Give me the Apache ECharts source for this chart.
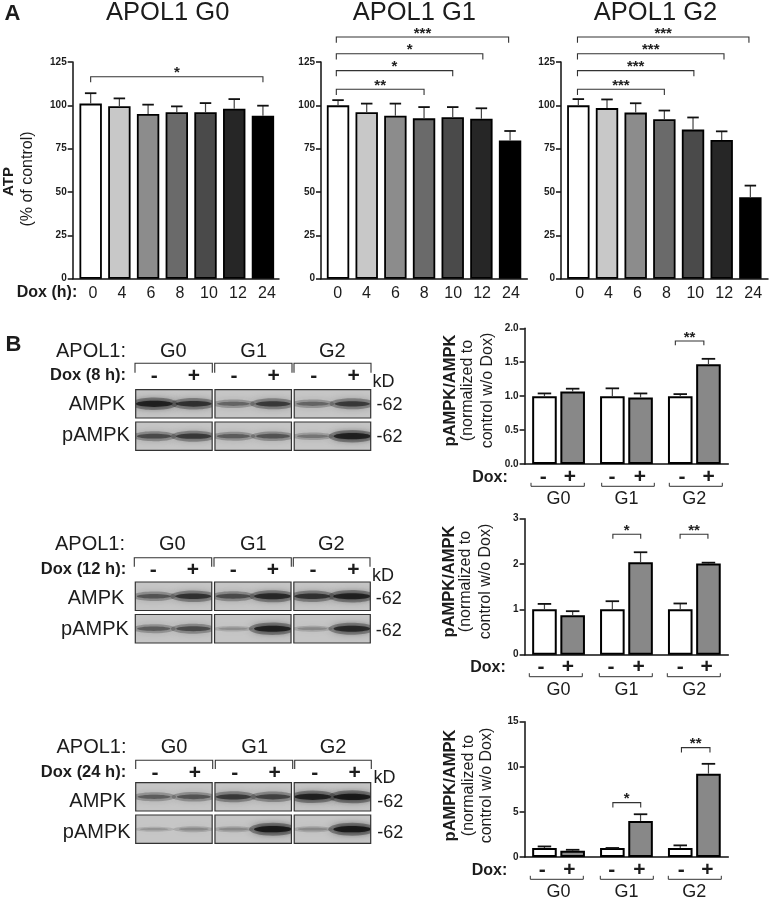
<!DOCTYPE html>
<html>
<head>
<meta charset="utf-8">
<style>html,body{margin:0;padding:0;background:#fff}#c{width:770px;height:901px}</style>
<script src="https://cdn.jsdelivr.net/npm/echarts@6/dist/echarts.min.js"></script>
</head>
<body>
<div id="c"></div>
<script>
// ---------- data ----------
const doxHours = ['0','4','6','8','10','12','24'];
const atpG0 = [101, 99.5, 95, 96, 96, 98, 94];
const atpG0Upper = [107, 104, 100.4, 99.4, 101.3, 103.6, 99.8];
const atpG1 = [100, 96, 94, 92.5, 93.2, 92.3, 79.7];
const atpG1Upper = [103, 101, 101, 99, 99, 98.3, 85.2];
const atpG2 = [100, 98.4, 95.8, 92, 86, 80, 47];
const atpG2Upper = [103.6, 103.4, 101.2, 97, 93, 85, 53.7];
// [from category, to category, bracket top, bracket tip, stars]
const atpG0Sig = [[0, 6, 116.5, 113.3, 1]];
const atpG1Sig = [[-0.06, 5.95, 139.4, 136.1, 3], [-0.06, 5.05, 129.8, 126.5, 1], [-0.06, 4, 120, 116.8, 1], [-0.06, 3, 109.3, 106, 2]];
const atpG2Sig = [[-0.03, 5.95, 139.4, 136.1, 3], [-0.03, 5.08, 129.8, 126.5, 3], [-0.03, 4.03, 120, 116.8, 3], [-0.03, 3, 109.3, 106, 3]];

const genotypes = ['G0', 'G1', 'G2'];
const ratio8Minus = [1, 1, 1];
const ratio8MinusUpper = [1.04, 1.115, 1.03];
const ratio8Plus = [1.07, 0.98, 1.47];
const ratio8PlusUpper = [1.11, 1.04, 1.55];
const ratio8Sig = [[1.72, 2.14, 1.813, 1.75, 2]];
const ratio12Minus = [1, 1, 1];
const ratio12MinusUpper = [1.12, 1.18, 1.13];
const ratio12Plus = [0.87, 2.04, 2.01];
const ratio12PlusUpper = [0.96, 2.26, 2.03];
const ratio12Sig = [[0.8, 1.21, 2.656, 2.56, 1], [1.79, 2.2, 2.656, 2.56, 2]];
const ratio24Minus = [1, 1, 1];
const ratio24MinusUpper = [1.17, 1, 1.29];
const ratio24Plus = [0.7, 4.0, 9.23];
const ratio24PlusUpper = [0.8, 4.74, 10.33];
const ratio24Sig = [[0.8, 1.21, 6.03, 5.48, 1], [1.81, 2.23, 12.13, 11.58, 2]];

// blot band strength, lane by lane (G0-, G0+, G1-, G1+, G2-, G2+)
const blot8Ampk = [0.95, 0.85, 0.55, 0.8, 0.55, 0.8];
const blot8Pampk = [0.7, 0.8, 0.6, 0.65, 0.45, 0.95];
const blot12Ampk = [0.65, 0.85, 0.7, 0.9, 0.85, 0.95];
const blot12Pampk = [0.6, 0.7, 0.25, 0.95, 0.3, 0.9];
const blot24Ampk = [0.6, 0.65, 0.8, 0.75, 0.95, 1];
const blot24Pampk = [0.2, 0.3, 0.3, 1, 0.3, 1];

const barGrays = ['#ffffff', '#c8c8c8', '#8c8c8c', '#6a6a6a', '#4a4a4a', '#262626', '#000000'];

// ---------- helpers ----------
const FF = '"Liberation Sans", Arial, sans-serif';
const INK = '#1c1c1c';
const grid = [], xAxis = [], yAxis = [], series = [], graphic = [];

function T(text, x, y, size, bold, rot) {
  graphic.push({ type: 'text', x, y, rotation: rot ? Math.PI / 2 : 0, silent: true, z: 20,
    style: { text, font: (bold ? 'bold ' : '') + size + 'px ' + FF, fill: INK, textAlign: 'center', textVerticalAlign: 'middle' } });
}
function P(points, w) {
  graphic.push({ type: 'polyline', silent: true, z: 20, shape: { points }, style: { stroke: '#333', lineWidth: w || 1, fill: null } });
}
function addGrid(x0, x1, y0, y1) {
  grid.push({ left: x0, width: x1 - x0, top: y0, height: y1 - y0, containLabel: false });
  return grid.length - 1;
}
function valueAxis(g, max, interval, visible, fmt) {
  yAxis.push({ type: 'value', gridIndex: g, min: 0, max, interval, show: visible, splitLine: { show: false },
    axisLine: { show: true, onZero: false, lineStyle: { color: '#111', width: 1.5 } },
    axisTick: { show: true, length: 5, lineStyle: { color: '#111', width: 1.5 } },
    axisLabel: { margin: 6, color: INK, fontFamily: FF, fontWeight: 'bold', fontSize: 10, formatter: fmt } });
  return yAxis.length - 1;
}
function catAxis(g, data, lineShown, labelShown, margin, size) {
  xAxis.push({ type: 'category', gridIndex: g, data, axisTick: { show: false }, boundaryGap: true,
    axisLine: { show: lineShown, lineStyle: { color: '#111', width: 1.5 } },
    axisLabel: { show: labelShown, margin, color: INK, fontFamily: FF, fontSize: size, interval: 0 } });
  return xAxis.length - 1;
}
function errSeries(xi, yi, upper, values, shift, capW) {
  series.push({ type: 'custom', xAxisIndex: xi, yAxisIndex: yi, clip: false, silent: true, z: 3,
    data: upper.map((u, i) => [i, values[i], u]), encode: { x: 0, y: 2 },
    renderItem(p, api) {
      const a = api.coord([api.value(0), api.value(1)]), b = api.coord([api.value(0), api.value(2)]);
      const x = a[0] + shift;
      return { type: 'group', children: [
        { type: 'line', shape: { x1: x, y1: a[1], x2: x, y2: b[1] }, style: { stroke: '#444', lineWidth: 1.2 } },
        { type: 'line', shape: { x1: x - capW / 2, y1: b[1], x2: x + capW / 2, y2: b[1] }, style: { stroke: '#111', lineWidth: 1.8 } }
      ] };
    } });
}
function sigSeries(xi, yi, sig) {
  series.push({ type: 'custom', xAxisIndex: xi, yAxisIndex: yi, clip: false, silent: true, z: 4,
    data: sig.map((s, i) => [0, i, s[0], s[1], s[2], s[3], s[4]]), encode: { x: 0, y: 1 },
    renderItem(p, api) {
      const o = api.coord([0, 0])[0], band = api.size([1, 0])[0];
      const x1 = o + api.value(2) * band, x2 = o + api.value(3) * band;
      const top = api.coord([0, api.value(4)])[1], tip = api.coord([0, api.value(5)])[1];
      return { type: 'group', children: [
        { type: 'polyline', shape: { points: [[x1, tip], [x1, top], [x2, top], [x2, tip]] }, style: { stroke: '#333', lineWidth: 1.1, fill: null } },
        { type: 'text', x: (x1 + x2) / 2, y: top - 3.5, style: { text: '*'.repeat(api.value(6)), font: 'bold 15px ' + FF, fill: '#222', textAlign: 'center', textVerticalAlign: 'middle' } }
      ] };
    } });
}
function atpPanel(fx0, fx1, dx0, dx1, lx0, lx1, values, upper, sig) {
  const top = 62, bottom = 278.7;
  const fg = addGrid(fx0, fx1, top, bottom);
  catAxis(fg, [''], true, false, 0, 10);
  valueAxis(fg, 125, 25, true);
  const lg = addGrid(lx0, lx1, top, bottom);
  catAxis(lg, doxHours, false, true, 7, 16);
  valueAxis(lg, 125, 25, false);
  const dg = addGrid(dx0, dx1, top, bottom);
  const xi = catAxis(dg, doxHours, false, false, 7, 16);
  const yi = valueAxis(dg, 125, 25, false);
  series.push({ type: 'bar', xAxisIndex: xi, yAxisIndex: yi, barWidth: 22.4, z: 2, silent: true,
    data: values.map((v, i) => ({ value: v, itemStyle: { color: barGrays[i], borderColor: '#000', borderWidth: 1.8 } })) });
  errSeries(xi, yi, upper, values, 0, 11.5);
  sigSeries(xi, yi, sig);
}
function ratioPanel(y0, y1, max, interval, fmt, minus, minusUp, plus, plusUp, sig) {
  const g = addGrid(524.6, 728.3, y0, y1);
  const xi = catAxis(g, genotypes, true, true, 26, 18);
  const yi = valueAxis(g, max, interval, true, fmt);
  const it = { borderColor: '#000', borderWidth: 2 };
  series.push({ type: 'bar', xAxisIndex: xi, yAxisIndex: yi, data: minus, barWidth: 24.6, barGap: '14.6%', z: 2, silent: true, itemStyle: { ...it, color: '#fff' } });
  series.push({ type: 'bar', xAxisIndex: xi, yAxisIndex: yi, data: plus, barWidth: 24.6, barGap: '14.6%', z: 2, silent: true, itemStyle: { ...it, color: '#888888' } });
  errSeries(xi, yi, minusUp, minus, -14.1, 13.5);
  errSeries(xi, yi, plusUp, plus, 14.1, 13.5);
  sigSeries(xi, yi, sig);
}
function blot(x0, y0, y1, ampk, pampk) {
  // two rows, three gels of two lanes each; gaps come from insets
  const g = addGrid(x0 - 1.4, x0 + 236.4, y0 - 2, y1 + 2);
  const xi = xAxis.push({ type: 'value', gridIndex: g, min: 0, max: 6, show: false }) - 1;
  const yi = yAxis.push({ type: 'value', gridIndex: g, min: 0, max: 2, inverse: true, show: false }) - 1;
  const gel = (l, r, api) => {
    const a = api.coord([l, r]), b = api.coord([l + 2, r + 1]);
    return { x: a[0] + 1.4, y: a[1] + 2, width: b[0] - a[0] - 2.8, height: b[1] - a[1] - 4 };
  };
  const frames = [];
  [0, 2, 4].forEach(l => [0, 1].forEach(r => frames.push([l, r])));
  series.push({ type: 'custom', xAxisIndex: xi, yAxisIndex: yi, silent: true, z: 1, clip: false, data: frames, encode: { x: 0, y: 1 },
    renderItem: (p, api) => ({ type: 'rect', shape: gel(api.value(0), api.value(1), api) , style: { fill: '#c6c6c6' } }) });
  const lanes = [];
  ampk.forEach((v, i) => lanes.push([i, 0, v]));
  pampk.forEach((v, i) => lanes.push([i, 1, v]));
  series.push({ type: 'custom', xAxisIndex: xi, yAxisIndex: yi, silent: true, z: 2, clip: false, data: lanes, encode: { x: 0, y: 1 },
    renderItem(p, api) {
      const l = api.value(0), r = api.value(1), ink = api.value(2);
      const c = api.coord([l + 0.5, r + 0.5]);
      const ge = l - l % 2, rc = gel(ge, r, api);
      const halo = 'rgba(40,40,40,' + (0.08 + 0.32 * ink) + ')';
      const core = 'rgba(15,15,15,' + (0.12 + 0.72 * Math.pow(ink, 2)) + ')';
      return { type: 'group', children: [
        { type: 'ellipse', shape: { cx: c[0], cy: c[1], rx: 19 + 5 * ink, ry: 1.5 + 5 * ink },
          style: { fill: halo, shadowBlur: 8, shadowColor: halo }, clipPath: { type: 'rect', shape: rc } },
        { type: 'ellipse', shape: { cx: c[0], cy: c[1], rx: 13 + 6 * ink, ry: 0.6 + 2.6 * ink },
          style: { fill: core, shadowBlur: 6, shadowColor: core }, clipPath: { type: 'rect', shape: rc } }
      ] };
    } });
  series.push({ type: 'custom', xAxisIndex: xi, yAxisIndex: yi, silent: true, z: 3, clip: false, data: frames, encode: { x: 0, y: 1 },
    renderItem: (p, api) => ({ type: 'rect', shape: gel(api.value(0), api.value(1), api), style: { fill: null, stroke: '#333', lineWidth: 1.2 } }) });
}
function blotText(c) {
  T('APOL1:', c.ax, c.ay, 20);
  c.gx.forEach((x, i) => T(genotypes[i], x, c.ay, 20));
  T(c.dox, c.dx, c.dy, 16.5, true);
  c.br.forEach(b => P([[b[0], c.tip], [b[0], c.top], [b[1], c.top], [b[1], c.tip]], 1.1));
  c.sx.forEach((x, i) => T(i % 2 ? '+' : '-', x, c.sy, 21, true));
  T('kD', c.kx, c.ky, 18);
  T('AMPK', c.lx, c.y1, 20);
  T('pAMPK', c.lx - 1, c.y2, 20);
  T('-62', c.mx, c.m1, 18);
  T('-62', c.mx, c.m2, 18);
}
function ratioText(c) {
  T('pAMPK/AMPK', c.x1, c.yc, 16.5, true, true);
  T('(normalized to', c.x2, c.yc, 16, false, true);
  T('control w/o Dox)', c.x3, c.yc, 16, false, true);
  T('Dox:', c.dx, c.dy, 16, true);
  c.sx.forEach((x, i) => T(i % 2 ? '+' : '-', x, c.dy, 21, true));
  c.br.forEach(b => P([[b[0], c.by - 3.5], [b[0], c.by], [b[1], c.by], [b[1], c.by - 3.5]], 1));
}

// ---------- panel A ----------
atpPanel(72.7, 279, 76.3, 277.3, 78.5, 281.5, atpG0, atpG0Upper, atpG0Sig);
atpPanel(321, 527.3, 323.7, 524.4, 323.2, 525.4, atpG1, atpG1Upper, atpG1Sig);
atpPanel(561, 768, 564, 764.7, 565.2, 767.6, atpG2, atpG2Upper, atpG2Sig);
T('A', 12.5, 14, 22, true);
T('APOL1 G0', 167.7, 13, 25.5);
T('APOL1 G1', 414.3, 13, 25.5);
T('APOL1 G2', 655.5, 13, 25.5);
T('ATP', 8.7, 181.5, 15, true, true);
T('(% of control)', 27.5, 179, 16, false, true);
T('Dox (h):', 47, 293, 16, true);

// ---------- panel B charts ----------
ratioPanel(328.3, 464, 2, 0.5, v => v.toFixed(1), ratio8Minus, ratio8MinusUpper, ratio8Plus, ratio8PlusUpper, ratio8Sig);
ratioPanel(518.7, 654.7, 3, 1, undefined, ratio12Minus, ratio12MinusUpper, ratio12Plus, ratio12PlusUpper, ratio12Sig);
ratioPanel(721.7, 857.7, 15, 5, undefined, ratio24Minus, ratio24MinusUpper, ratio24Plus, ratio24PlusUpper, ratio24Sig);
ratioText({ x1: 450.7, x2: 467.3, x3: 487.7, yc: 390.5, dx: 490, dy: 477.7, sx: [543.3, 570, 612, 640, 682, 708.7], by: 486.3, br: [[531, 584.3], [601.7, 654.3], [669.3, 722.3]] });
ratioText({ x1: 449.3, x2: 466, x3: 486, yc: 581.5, dx: 488, dy: 667.7, sx: [541, 568, 611, 638.7, 680.3, 706.7], by: 676.7, br: [[529.3, 582.3], [599.3, 652.3], [667.3, 720.3]] });
ratioText({ x1: 450, x2: 468.3, x3: 486.7, yc: 785.5, dx: 489.5, dy: 870.7, sx: [542.3, 569.3, 611.7, 639.3, 681.3, 707.3], by: 879.3, br: [[530.3, 583.3], [600.3, 653.3], [668.3, 721.3]] });

// ---------- panel B blots ----------
T('B', 13.5, 345, 22, true);
blot(135.7, 389.7, 450.3, blot8Ampk, blot8Pampk);
blot(135.3, 582, 643, blot12Ampk, blot12Pampk);
blot(135.7, 782.7, 843.3, blot24Ampk, blot24Pampk);
blotText({ ax: 91, ay: 351, gx: [173.3, 253.7, 332.3], dox: 'Dox (8 h):', dx: 88, dy: 375.7, top: 363.3, tip: 372.7,
  br: [[135, 212.3], [214.7, 292], [294, 371]], sx: [154.3, 194, 234, 273.7, 313.7, 353.7], sy: 376.7,
  kx: 383.5, ky: 382, lx: 97, y1: 404.3, y2: 435.7, mx: 389.5, m1: 405, m2: 436.7 });
blotText({ ax: 90, ay: 544, gx: [172.3, 253.3, 331.3], dox: 'Dox (12 h):', dx: 83.5, dy: 569.3, top: 557.7, tip: 566.7,
  br: [[134.3, 211.7], [214, 291.3], [293.3, 370]], sx: [153.3, 193, 233.3, 273, 313, 353.3], sy: 570.7,
  kx: 383, ky: 575.7, lx: 96, y1: 598.7, y2: 629.3, mx: 388.8, m1: 598.7, m2: 630.7 });
blotText({ ax: 91.5, ay: 747.3, gx: [174, 254.7, 333], dox: 'Dox (24 h):', dx: 83.5, dy: 772.3, top: 760.3, tip: 769,
  br: [[135.7, 212.7], [215.3, 292.7], [294.7, 371.3]], sx: [155, 195, 234.7, 274.7, 314.7, 354.7], sy: 773.7,
  kx: 384.5, ky: 778.3, lx: 97.7, y1: 801.3, y2: 832.3, mx: 390.2, m1: 801.7, m2: 833.3 });

const chart = echarts.init(document.getElementById('c'), null, { renderer: 'canvas', width: 770, height: 901 });
chart.setOption({ animation: false, backgroundColor: '#fff', grid, xAxis, yAxis, series, graphic: { elements: graphic } });
</script>
</body>
</html>
